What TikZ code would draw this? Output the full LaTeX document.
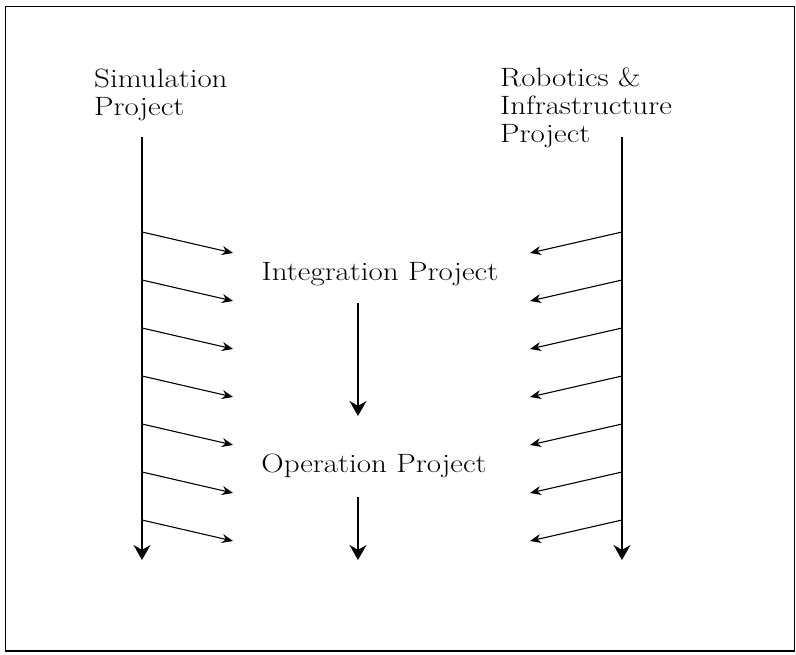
\documentclass[tikz,border=0pt]{standalone}
\usepackage{fontspec}
\setmainfont{Latin Modern Roman}[FakeStretch=1.17]
\usetikzlibrary{arrows.meta}
\begin{document}
\begin{tikzpicture}[x=1pt,y=-1pt,
  lbl/.style={inner sep=0pt,font=\fontsize{26.5}{28}\selectfont},
  bigarrow/.style={line width=1.6pt,-{Stealth[length=15pt,width=17pt]}},
  smallarrow/.style={line width=1.1pt,-{Stealth[length=11pt,width=9pt]}}]
\useasboundingbox (0,0) rectangle (796,654);
\draw[line width=1.3pt] (5.5,6.5) rectangle (794.5,651);
% titles
\node[lbl,anchor=base west,align=left] (sim) at (94,115) {Simulation\\Project};
\node[lbl,anchor=base west,align=left] (rob) at (500,142) {Robotics \&\\Infrastructure\\Project};
\node[lbl,anchor=base] (int) at (380,280) {Integration Project};
\node[lbl,anchor=base] (op) at (374,472) {Operation Project};
% main vertical lines
\coordinate (lt) at (142,137);
\coordinate (lb) at (142,560);
\coordinate (rt) at (622,137);
\coordinate (rb) at (622,560);
\draw[bigarrow] (lt) -- (lb);
\draw[bigarrow] (rt) -- (rb);
% middle arrows
\coordinate (m1t) at (358,303);
\coordinate (m1b) at (358,416);
\coordinate (m2t) at (358,497);
\coordinate (m2b) at (358,560);
\draw[bigarrow] (m1t) -- (m1b);
\draw[bigarrow] (m2t) -- (m2b);
% short arrows
\foreach \i in {0,...,6}{
  \coordinate (ls\i) at (142,232+48*\i);
  \coordinate (le\i) at (233,253+48*\i);
  \coordinate (rs\i) at (622,232+48*\i);
  \coordinate (re\i) at (530,253+48*\i);
  \draw[smallarrow] (ls\i) -- (le\i);
  \draw[smallarrow] (rs\i) -- (re\i);
}
\end{tikzpicture}
\end{document}
